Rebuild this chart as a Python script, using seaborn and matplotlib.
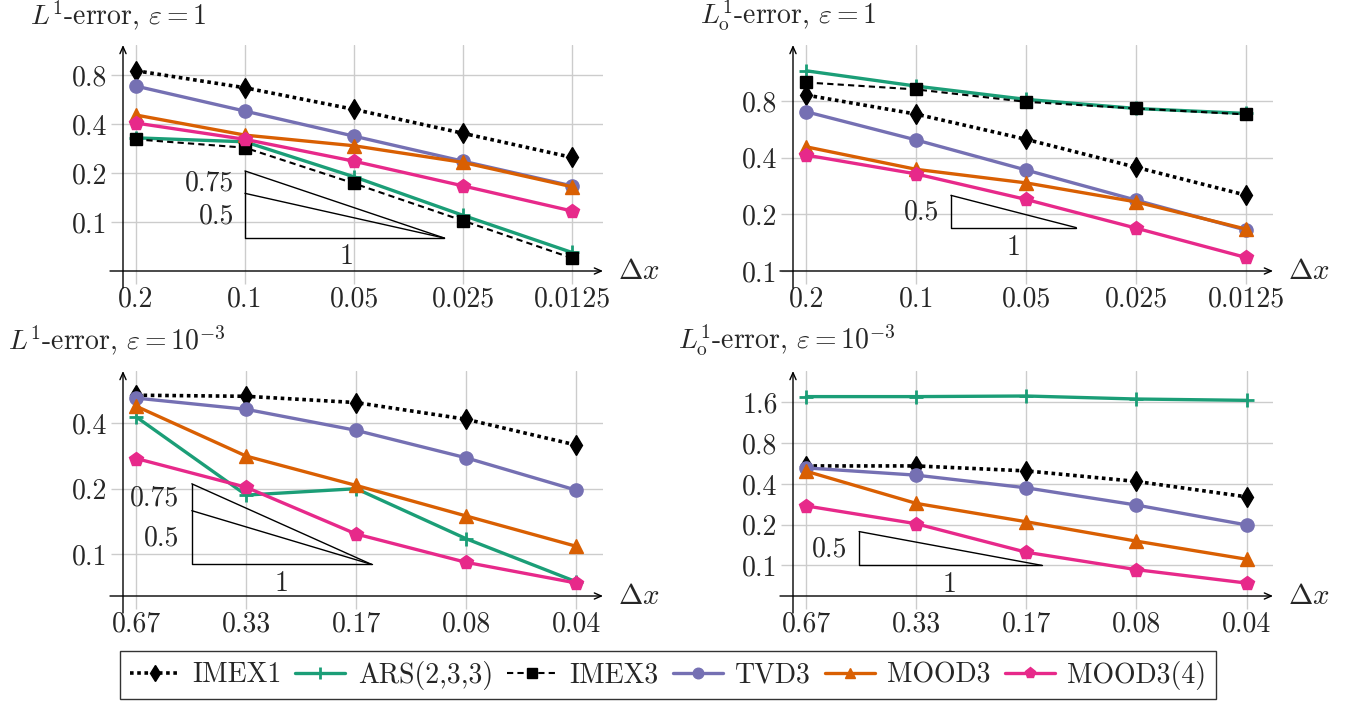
import matplotlib
matplotlib.use('Agg')
import matplotlib.pyplot as plt
import seaborn as sns

# ---------------- data ----------------
methods = ['IMEX1', 'ARS(2,3,3)', 'IMEX3', 'TVD3', 'MOOD3', 'MOOD3(4)']
dx_eps1 = ['0.2', '0.1', '0.05', '0.025', '0.0125']
dx_eps3 = ['0.67', '0.33', '0.17', '0.08', '0.04']

# L1 error, eps = 1
l1_e1_imex1 = [0.854, 0.671, 0.494, 0.352, 0.250]
l1_e1_ars = [0.330, 0.312, 0.190, 0.110, 0.065]
l1_e1_imex3 = [0.323, 0.287, 0.173, 0.102, 0.060]
l1_e1_tvd3 = [0.687, 0.482, 0.338, 0.237, 0.167]
l1_e1_mood3 = [0.456, 0.343, 0.295, 0.233, 0.165]
l1_e1_mood34 = [0.407, 0.323, 0.237, 0.167, 0.117]

# L1_o error, eps = 1
l1o_e1_imex1 = [0.861, 0.682, 0.501, 0.356, 0.253]
l1o_e1_ars = [1.159, 0.961, 0.817, 0.731, 0.688]
l1o_e1_imex3 = [1.005, 0.923, 0.793, 0.731, 0.680]
l1o_e1_tvd3 = [0.702, 0.497, 0.344, 0.238, 0.165]
l1o_e1_mood3 = [0.457, 0.347, 0.294, 0.233, 0.167]
l1o_e1_mood34 = [0.413, 0.328, 0.240, 0.169, 0.118]

# L1 error, eps = 1e-3
l1_e3_imex1 = [0.536, 0.530, 0.496, 0.416, 0.317]
l1_e3_ars = [0.426, 0.187, 0.200, 0.118, 0.075]
l1_e3_tvd3 = [0.520, 0.462, 0.370, 0.277, 0.197]
l1_e3_mood3 = [0.477, 0.282, 0.207, 0.150, 0.109]
l1_e3_mood34 = [0.275, 0.203, 0.124, 0.092, 0.074]

# L1_o error, eps = 1e-3
l1o_e3_imex1 = [0.543, 0.543, 0.499, 0.417, 0.321]
l1o_e3_ars = [1.766, 1.766, 1.784, 1.695, 1.657]
l1o_e3_tvd3 = [0.525, 0.464, 0.374, 0.279, 0.199]
l1o_e3_mood3 = [0.496, 0.287, 0.210, 0.151, 0.111]
l1o_e3_mood34 = [0.275, 0.203, 0.125, 0.093, 0.074]

yticks_a = [0.1, 0.2, 0.4, 0.8]
yticks_b = [0.1, 0.2, 0.4, 0.8, 1.6]
ytick_labels_a = ['0.1', '0.2', '0.4', '0.8']
ytick_labels_b = ['0.1', '0.2', '0.4', '0.8', '1.6']

# ---------------- style ----------------
sns.set_style('white')
plt.rcParams['font.family'] = ['cmr10', 'DejaVu Serif']
plt.rcParams['mathtext.fontset'] = 'cm'
plt.rcParams['axes.formatter.use_mathtext'] = True

FS = 20
GRID = '#cccccc'
styles = {
    'IMEX1': dict(color='black', marker='d', ls=(0, (1, 1)), lw=2.6, ms=10),
    'ARS(2,3,3)': dict(color='#1b9e77', marker='+', ls='-', lw=2.4, ms=10, mew=2),
    'IMEX3': dict(color='black', marker='s', ls=(0, (3, 2)), lw=1.5, ms=9),
    'TVD3': dict(color='#7570b3', marker='o', ls='-', lw=2.4, ms=9.5),
    'MOOD3': dict(color='#d95f02', marker='^', ls='-', lw=2.4, ms=9.5),
    'MOOD3(4)': dict(color='#e7298a', marker='p', ls='-', lw=2.4, ms=10),
}

W, H = 1352, 702
fig = plt.figure(figsize=(W / 100, H / 100), dpi=100)


def pos(l, r, t, b):
    return [l / W, 1 - b / H, (r - l) / W, (b - t) / H]


panels = [
    dict(rect=(123, 603, 45, 271), xlim=(-0.119, 4.284), ylim=(0.05, 1.23),
         xt=dx_eps1, yt=yticks_a, ytl=ytick_labels_a,
         series={'IMEX1': l1_e1_imex1, 'ARS(2,3,3)': l1_e1_ars, 'IMEX3': l1_e1_imex3,
                 'TVD3': l1_e1_tvd3, 'MOOD3': l1_e1_mood3, 'MOOD3(4)': l1_e1_mood34},
         title=r'$L^1$-error, $\varepsilon = 1$', tpos=(30, 24), dxpos=(639, 272),
         tri=dict(x0=1.0, x1=2.83, y0=0.0797, slopes=[0.5, 0.75]),
         tlabels=[('0.75', 0.90, 0.173, 'right'), ('0.5', 0.90, 0.108, 'right'),
                  ('1', 1.927, 0.0612, 'center')]),
    dict(rect=(793, 1273, 45, 271), xlim=(-0.122, 4.246), ylim=(0.1, 1.59),
         xt=dx_eps1, yt=yticks_a, ytl=ytick_labels_a,
         series={'IMEX1': l1o_e1_imex1, 'ARS(2,3,3)': l1o_e1_ars, 'IMEX3': l1o_e1_imex3,
                 'TVD3': l1o_e1_tvd3, 'MOOD3': l1o_e1_mood3, 'MOOD3(4)': l1o_e1_mood34},
         title=r'$L^1_\mathrm{o}$-error, $\varepsilon = 1$', tpos=(700, 24), dxpos=(1309, 272),
         tri=dict(x0=1.315, x1=2.456, y0=0.17, slopes=[0.5]),
         tlabels=[('0.5', 1.21, 0.206, 'right'), ('1', 1.889, 0.132, 'center')]),
    dict(rect=(123, 603, 371, 596), xlim=(-0.121, 4.245), ylim=(0.0645, 0.692),
         xt=dx_eps3, yt=yticks_a[:3], ytl=ytick_labels_a[:3],
         series={'IMEX1': l1_e3_imex1, 'ARS(2,3,3)': l1_e3_ars,
                 'TVD3': l1_e3_tvd3, 'MOOD3': l1_e3_mood3, 'MOOD3(4)': l1_e3_mood34},
         title=r'$L^1$-error, $\varepsilon = 10^{-3}$', tpos=(8, 349), dxpos=(639, 597),
         tri=dict(x0=0.505, x1=2.14, y0=0.090, slopes=[0.5, 0.75]),
         tlabels=[('0.75', 0.39, 0.180, 'right'), ('0.5', 0.39, 0.118, 'right'),
                  ('1', 1.321, 0.0737, 'center')]),
    dict(rect=(793, 1273, 371, 596), xlim=(-0.12, 4.24), ylim=(0.0594, 2.73),
         xt=dx_eps3, yt=yticks_b, ytl=ytick_labels_b,
         series={'IMEX1': l1o_e3_imex1, 'ARS(2,3,3)': l1o_e3_ars,
                 'TVD3': l1o_e3_tvd3, 'MOOD3': l1o_e3_mood3, 'MOOD3(4)': l1o_e3_mood34},
         title=r'$L^1_\mathrm{o}$-error, $\varepsilon = 10^{-3}$', tpos=(678, 349), dxpos=(1309, 597),
         tri=dict(x0=0.48, x1=2.14, y0=0.1, slopes=[0.5]),
         tlabels=[('0.5', 0.37, 0.131, 'right'), ('1', 1.30, 0.0716, 'center')]),
]

legend_handles = None
for p in panels:
    l, r, t, b = p['rect']
    ax = fig.add_axes(pos(l, r, t, b))
    xs = list(range(len(p['xt'])))
    for name in methods:
        if name not in p['series']:
            continue
        st = styles[name]
        sns.lineplot(x=xs, y=p['series'][name], ax=ax, color=st['color'], marker=st['marker'],
                     linestyle=st['ls'], linewidth=st['lw'], markersize=st['ms'],
                     markeredgecolor=st['color'], markerfacecolor=st['color'],
                     markeredgewidth=st.get('mew', 1.0), label=name, legend=False,
                     errorbar=None, sort=False, clip_on=False, zorder=3)
    ax.set_yscale('log', base=2)
    ax.set_xlim(*p['xlim'])
    ax.set_ylim(*p['ylim'])
    ax.set_xticks(xs)
    ax.set_xticklabels(p['xt'], fontsize=FS)
    ax.set_yticks(p['yt'])
    ax.set_yticklabels(p['ytl'], fontsize=FS)
    ax.minorticks_off()
    ax.grid(True, color=GRID, lw=1.0, zorder=0)
    ax.set_axisbelow(True)
    ax.tick_params(axis='both', direction='out', length=9, width=1.0, color=GRID, pad=2,
                   bottom=True, left=True)
    for s in ax.spines.values():
        s.set_visible(False)
    ax.set_xlabel('')
    ax.set_ylabel('')
    pw, ph = r - l, b - t
    arrow = dict(arrowstyle='->,head_length=0.5,head_width=0.22', lw=1.0, color='black',
                 shrinkA=0, shrinkB=0)
    ax.annotate('', xy=(1.0, 0.0), xytext=(-13 / pw, 0.0), xycoords='axes fraction',
                textcoords='axes fraction', arrowprops=arrow, annotation_clip=False)
    ax.annotate('', xy=(0.0, 1.0), xytext=(0.0, -17 / ph), xycoords='axes fraction',
                textcoords='axes fraction', arrowprops=arrow, annotation_clip=False)

    # slope triangles
    tr = p['tri']
    L = tr['x1'] - tr['x0']
    ax.plot([tr['x0'], tr['x0'], tr['x1']],
            [tr['y0'] * 2 ** (max(tr['slopes']) * L), tr['y0'], tr['y0']],
            color='black', lw=1.0, zorder=2)
    for sl in tr['slopes']:
        ax.plot([tr['x0'], tr['x1']], [tr['y0'] * 2 ** (sl * L), tr['y0']],
                color='black', lw=1.0, zorder=2)
    for txt, tx, ty, ha in p['tlabels']:
        ax.text(tx, ty, txt, ha=ha, va='center', fontsize=FS)

    fig.text(p['tpos'][0] / W, 1 - p['tpos'][1] / H, p['title'], fontsize=FS,
             ha='left', va='baseline')
    fig.text(p['dxpos'][0] / W, 1 - p['dxpos'][1] / H, r'$\Delta x$', fontsize=FS + 1,
             ha='center', va='center')
    if legend_handles is None:
        legend_handles = ax.get_legend_handles_labels()

handles, labels = legend_handles
leg = fig.legend(handles, labels, loc='center', bbox_to_anchor=(668 / W, 1 - 675 / H),
                 ncol=6, frameon=True, fancybox=False, edgecolor='black', fontsize=FS,
                 handlelength=1.8, handletextpad=0.45, columnspacing=0.5, borderpad=0.35,
                 markerscale=0.8, borderaxespad=0)
leg.get_frame().set_linewidth(1.0)

fig.savefig('out.png', dpi=100)
